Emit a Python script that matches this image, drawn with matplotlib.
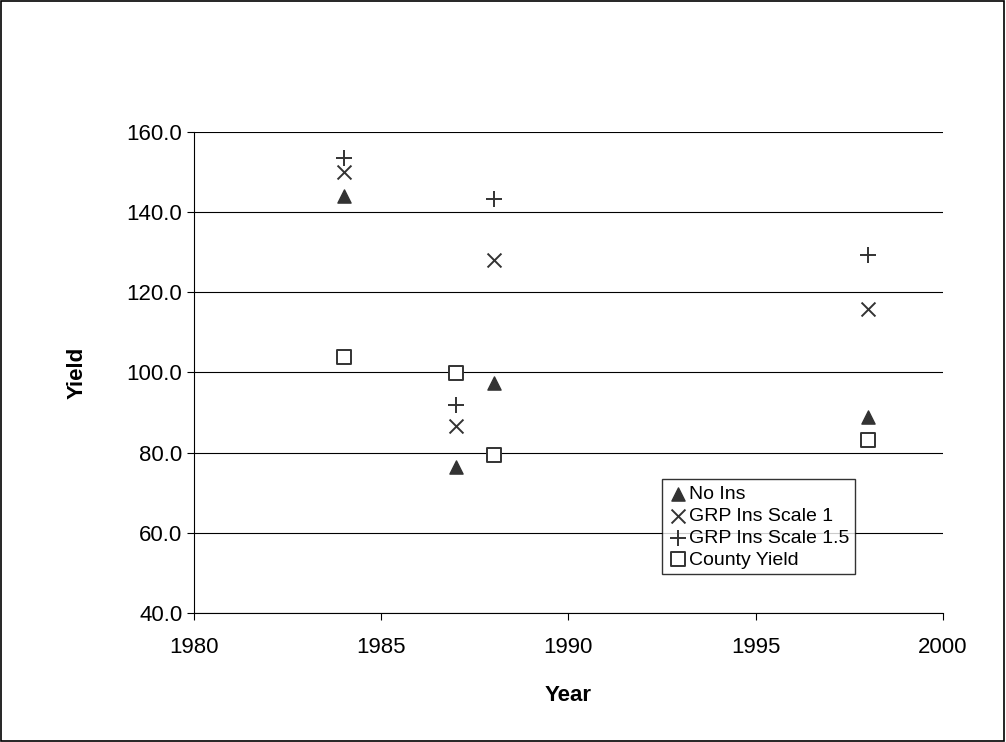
import matplotlib
matplotlib.use("Agg")
import matplotlib.pyplot as plt
from matplotlib.patches import Rectangle

plt.rcParams["font.family"] = ["Liberation Sans", "DejaVu Sans"]

years_no_ins = [1984, 1987, 1988, 1998]
no_ins = [144.0, 76.4, 97.4, 88.9]
grp_scale1 = [150.0, 86.7, 128.1, 115.8]
grp_scale15 = [153.5, 91.9, 143.3, 129.3]
county_yield = [103.9, 99.9, 79.4, 83.2]

fig = plt.figure(figsize=(10.06, 7.42), dpi=100)
fig.patches.append(Rectangle((0.001, 0.001), 0.997, 0.997, transform=fig.transFigure,
                             fill=False, edgecolor="black", linewidth=1.2))
ax = fig.add_axes([0.193, 0.174, 0.744, 0.648])

ax.scatter(years_no_ins, no_ins, marker="^", s=90, c="#333333", label="No Ins", zorder=3)
ax.scatter(years_no_ins, grp_scale1, marker="x", s=100, c="#333333", linewidths=1.4,
           label="GRP Ins Scale 1", zorder=3)
ax.scatter(years_no_ins, grp_scale15, marker="+", s=140, c="#333333", linewidths=1.4,
           label="GRP Ins Scale 1.5", zorder=3)
ax.scatter(years_no_ins, county_yield, marker="s", s=90, facecolors="white",
           edgecolors="#333333", linewidths=1.4, label="County Yield", zorder=3)

ax.set_xlim(1980, 2000)
ax.set_ylim(40, 160)
ax.set_xticks(range(1980, 2001, 5))
ax.set_yticks(range(40, 161, 20))
ax.set_yticklabels([f"{v:.1f}" for v in range(40, 161, 20)])
ax.yaxis.grid(True, color="black", linewidth=0.8)
ax.set_axisbelow(True)
ax.tick_params(labelsize=16, direction="out", length=5)
ax.tick_params(axis="x", pad=12)
for side in ["top", "right"]:
    ax.spines[side].set_visible(False)
ax.set_xlabel("Year", fontsize=16, fontweight="bold", labelpad=20)
ax.set_ylabel("Yield", fontsize=16, fontweight="bold", labelpad=28)

leg = ax.legend(loc="lower left", bbox_to_anchor=(0.625, 0.08), fontsize=14,
                frameon=True, fancybox=False, edgecolor="black", handletextpad=0.1,
                borderpad=0.3, labelspacing=0.22, handlelength=1.0, borderaxespad=0)
leg.get_frame().set_linewidth(1.0)

fig.savefig("out.png", dpi=100)
